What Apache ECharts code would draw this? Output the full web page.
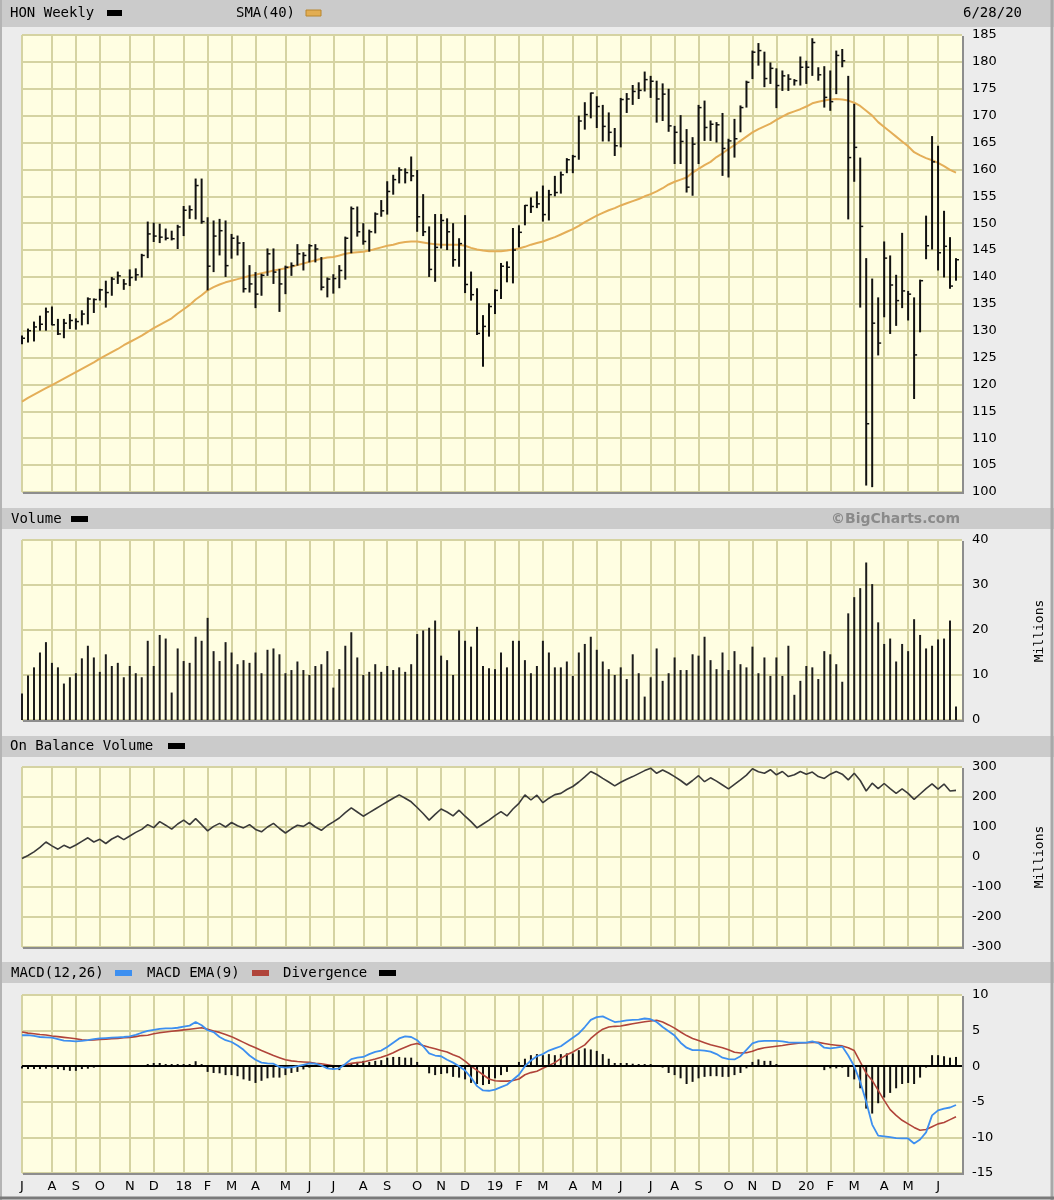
<!DOCTYPE html>
<html><head><meta charset="utf-8">
<script src="https://cdn.jsdelivr.net/npm/echarts/dist/echarts.min.js"></script>
<style>html,body{margin:0;padding:0;background:#ececec;}#c{width:1054px;height:1200px;}</style>
</head><body><div id="c"></div>
<script>
// ---------- DATA (weekly bars, week of Sunday 2017-07-02 ... 2020-06-28) ----------
const firstWeek = [2017, 7, 2];
const monthTickWeeks = [0,5,9,13,18,22,27,31,35,39,44,48,52,57,61,66,70,74,79,83,87,92,96,100,105,109,113,118,122,126,131,135,139,144,148,153];
const monthTickLabels = ['J','A','S','O','N','D','18','F','M','A','M','J','J','A','S','O','N','D','19','F','M','A','M','J','J','A','S','O','N','D','20','F','M','A','M','J'];
const priceTicks = {min:100, max:185, step:5};
const volumeTicks = {min:0, max:40, step:10};
const obvTicks = {min:-300, max:300, step:100};
const macdTicks = {min:-15, max:10, step:5};

const high = [
129.1,130.4,131.7,132.8,134.3,134.5,132.2,132.2,133.1,132.3,
133.8,136.2,136.0,137.8,139.3,140.0,141.0,139.6,141.4,141.6,
144.3,150.3,150.1,149.9,149.0,148.6,149.7,153.2,153.3,158.3,
158.3,151.1,150.5,150.8,150.5,148.0,147.7,146.5,142.2,140.9,
140.6,145.3,145.3,141.5,142.1,142.7,146.1,144.6,146.1,146.1,
143.7,139.9,140.5,142.2,147.5,153.1,153.1,150.0,148.8,152.0,
154.3,157.8,159.0,160.4,160.2,162.4,159.9,155.4,149.4,151.7,
151.7,150.9,150.0,147.2,151.5,141.0,137.9,132.9,135.1,137.7,
142.6,142.9,149.1,149.6,153.4,154.8,155.9,157.0,156.2,158.8,
159.6,162.1,162.7,170.0,172.5,174.3,173.6,172.0,170.6,167.7,
173.3,174.2,175.7,176.2,178.2,177.4,176.5,176.0,175.0,168.1,
170.1,167.5,166.0,172.0,172.8,169.1,168.8,170.5,165.7,169.4,
171.9,176.5,182.1,183.5,181.9,179.9,178.8,178.4,177.7,176.8,
181.0,180.2,184.4,179.0,179.2,178.4,182.1,182.4,177.4,172.2,
162.2,143.5,139.7,136.2,146.6,144.0,140.4,148.2,137.4,136.2,
139.5,151.4,166.2,164.4,152.3,147.4,143.5];
const low = [
127.5,127.8,128.0,130.0,130.0,131.0,129.2,128.6,130.3,130.2,
131.0,131.2,133.3,135.6,134.3,136.5,138.7,137.6,138.3,139.3,
139.9,143.5,146.5,146.3,146.8,146.8,145.2,147.6,150.8,150.7,
149.9,137.5,140.9,144.0,140.0,143.4,144.0,137.1,137.1,134.2,
136.5,140.2,138.7,133.5,136.8,140.2,142.1,141.2,142.7,142.7,
137.5,136.2,136.9,137.9,139.5,144.4,147.5,146.0,144.7,148.1,
151.2,151.6,155.3,157.4,157.4,157.8,148.4,147.6,140.0,139.1,
145.3,145.0,141.9,141.9,137.0,135.6,129.2,123.3,128.9,133.1,
135.9,139.0,138.8,145.5,149.6,151.9,152.8,150.3,150.5,155.0,
155.5,159.3,159.3,161.8,167.4,169.5,167.7,165.2,165.2,162.5,
164.1,170.5,172.0,173.1,174.5,173.3,168.7,169.0,167.0,161.0,
161.0,155.7,155.1,161.0,165.3,165.3,165.0,158.8,158.5,162.2,
166.9,171.5,176.8,179.3,175.3,175.9,171.4,174.6,174.6,175.6,
175.6,175.9,177.4,176.5,171.5,170.9,174.0,179.0,150.7,157.7,
134.3,101.2,100.9,125.4,132.5,129.4,130.9,134.2,131.9,117.3,
129.7,143.3,145.1,141.2,139.9,137.8,139.3];
const close = [
128.6,130.0,130.7,131.2,133.5,131.1,129.4,131.4,131.9,131.7,
133.1,135.9,135.8,137.6,137.1,139.6,140.2,138.7,139.9,140.4,
144.0,148.0,147.6,147.4,147.2,147.1,149.3,152.4,152.5,157.0,
150.3,142.0,147.6,148.6,142.1,147.2,146.3,137.8,138.7,136.8,
140.3,144.3,140.9,138.7,141.8,142.1,144.3,144.0,145.8,145.2,
138.1,139.6,139.7,141.2,147.2,152.7,148.4,146.6,148.4,151.7,
152.3,155.9,158.1,159.9,159.4,158.8,151.2,148.4,141.4,145.5,
150.5,148.4,143.2,146.2,138.6,136.7,129.5,130.8,134.5,137.5,
142.0,141.8,145.0,148.3,153.3,153.1,153.6,151.6,155.3,155.7,
159.0,161.8,162.4,169.0,170.2,174.2,171.7,168.0,166.9,164.4,
173.0,173.1,174.5,174.7,176.7,176.4,173.1,174.0,168.1,166.9,
165.2,156.7,164.7,171.5,167.8,168.4,168.3,163.9,165.3,165.7,
171.5,176.2,181.8,182.1,176.9,178.8,175.6,177.4,176.8,176.5,
179.0,179.0,183.6,177.6,173.4,172.6,181.2,180.2,162.2,164.1,
149.4,112.7,131.4,127.7,143.5,138.5,135.6,137.4,136.8,125.5,
139.3,145.8,161.4,144.5,145.7,138.3,143.2];
const sma40 = [
116.8,117.5,118.1,118.7,119.3,119.9,120.5,121.1,121.7,122.3,
122.9,123.5,124.1,124.8,125.4,126.0,126.6,127.3,127.9,128.5,
129.1,129.8,130.5,131.1,131.7,132.3,133.2,134.0,134.8,135.8,
136.6,137.5,138.1,138.6,139.0,139.3,139.6,139.9,140.2,140.4,
140.7,140.9,141.2,141.4,141.6,141.9,142.2,142.5,142.8,143.1,
143.4,143.6,143.7,144.0,144.3,144.5,144.6,144.7,144.9,145.2,
145.5,145.8,146.0,146.3,146.5,146.6,146.6,146.4,146.2,146.1,
146.0,146.0,146.0,146.0,145.8,145.4,145.1,144.9,144.8,144.8,
144.8,144.9,145.1,145.3,145.6,146.0,146.3,146.6,147.0,147.4,
147.9,148.4,148.9,149.5,150.2,150.8,151.4,151.9,152.4,152.8,
153.3,153.7,154.1,154.5,155.0,155.4,155.9,156.5,157.2,157.7,
158.1,158.5,159.4,160.1,160.8,161.4,162.3,163.0,163.8,164.5,
165.3,166.1,166.9,167.5,168.0,168.5,169.2,169.8,170.4,170.8,
171.2,171.7,172.3,172.6,172.8,173.0,173.1,173.0,172.8,172.4,
171.8,170.9,170.0,168.8,167.9,167.0,166.1,165.2,164.3,163.2,
162.6,162.1,161.7,161.2,160.6,159.9,159.4];
const volume = [
5.9,9.9,11.7,15.0,17.3,12.7,11.7,8.1,9.5,10.4,
13.7,16.5,13.9,10.7,14.6,12.0,12.7,9.5,12.0,10.4,
9.5,17.6,12.0,18.9,18.1,6.1,15.9,13.1,12.7,18.5,
17.6,22.7,15.3,13.1,17.3,15.0,12.4,13.3,12.7,15.0,
10.4,15.6,15.9,14.6,10.4,11.1,13.0,11.1,10.0,12.0,
12.4,15.3,7.2,11.3,16.5,19.5,13.9,10.0,10.7,12.4,
10.7,12.0,11.1,11.7,10.7,12.4,19.1,19.9,20.5,22.1,
14.3,13.3,10.0,19.9,17.6,16.3,20.7,12.0,11.5,11.3,
15.0,11.7,17.6,17.6,13.3,10.4,12.0,17.6,15.0,11.7,
11.7,13.0,9.8,15.0,16.9,18.5,15.6,13.0,11.3,10.0,
11.7,9.1,14.6,10.4,5.2,9.5,15.9,8.7,10.4,13.9,
11.1,11.1,14.6,14.3,18.5,13.3,11.3,15.0,11.1,15.3,
12.4,11.7,16.3,10.4,13.9,9.8,13.9,9.8,16.5,5.6,
8.7,12.0,11.7,9.1,15.3,14.6,12.4,8.5,23.7,27.3,
29.3,35.0,30.2,21.7,16.9,18.1,13.0,16.9,15.3,22.4,
18.9,15.9,16.5,17.9,18.1,22.1,3.0];
const obv = [
-5,5,17,32,50,37,26,39,30,40,
52,64,50,59,45,60,70,58,70,82,
92,108,98,118,106,93,110,123,108,128,
108,87,102,112,100,115,104,97,108,92,
84,100,112,95,80,94,106,102,115,100,
89,105,117,130,148,164,150,136,148,160,
172,184,196,207,196,184,165,145,123,142,
160,150,137,156,136,118,97,110,123,138,
151,137,160,179,207,190,206,181,196,208,
212,225,235,250,267,285,275,262,250,237,
249,259,268,278,288,296,279,290,280,268,
255,240,255,271,251,264,253,240,227,242,
257,273,294,284,279,291,274,285,268,274,
285,276,283,268,262,276,285,276,257,279,
255,220,246,228,245,228,212,227,212,192,
210,228,244,226,243,220,222];
const macd = [
4.35,4.35,4.25,4.1,4.05,4.0,3.8,3.6,3.55,3.5,
3.55,3.65,3.8,3.9,3.95,4.0,4.05,4.1,4.2,4.4,
4.7,4.95,5.1,5.25,5.3,5.3,5.4,5.55,5.7,6.2,
5.75,5.05,4.8,4.1,3.65,3.4,2.9,2.3,1.5,0.9,
0.5,0.4,0.35,-0.1,-0.2,-0.15,0.0,0.2,0.4,0.35,
0.1,-0.3,-0.4,-0.3,0.3,1.0,1.2,1.3,1.7,2.0,
2.2,2.7,3.3,3.9,4.2,4.1,3.65,2.8,1.8,1.5,
1.4,0.9,0.5,0.0,-0.6,-1.6,-2.8,-3.4,-3.45,-3.3,
-2.95,-2.6,-1.9,-1.2,0.0,0.8,1.4,1.7,2.2,2.5,
2.8,3.4,4.0,4.6,5.5,6.5,6.9,7.0,6.6,6.2,
6.3,6.45,6.5,6.55,6.7,6.6,6.2,5.5,4.9,4.3,
3.3,2.6,2.25,2.25,2.2,2.05,1.7,1.2,1.0,0.95,
1.4,2.3,3.2,3.5,3.55,3.55,3.55,3.5,3.35,3.3,
3.3,3.3,3.5,3.25,2.6,2.5,2.6,2.75,1.5,0.0,
-2.2,-5.0,-8.2,-9.75,-9.85,-9.95,-10.1,-10.15,-10.15,-10.85,
-10.3,-9.3,-6.9,-6.2,-5.95,-5.8,-5.45];
const macdEma = [
4.8,4.65,4.55,4.45,4.38,4.25,4.15,4.05,3.95,3.85,
3.7,3.65,3.7,3.75,3.8,3.85,3.9,4.0,4.05,4.15,
4.3,4.35,4.55,4.7,4.8,4.9,5.0,5.1,5.2,5.3,
5.4,5.2,4.95,4.75,4.45,4.15,3.75,3.35,2.95,2.6,
2.2,1.85,1.5,1.2,0.9,0.75,0.65,0.6,0.55,0.4,
0.35,0.2,0.05,0.0,0.2,0.4,0.5,0.6,0.8,1.0,
1.25,1.55,1.9,2.3,2.65,3.0,3.2,2.9,2.65,2.45,
2.2,2.0,1.6,1.3,0.7,0.0,-0.6,-1.2,-1.8,-2.05,
-2.1,-2.1,-2.0,-1.8,-1.2,-0.9,-0.7,-0.3,0.1,0.5,
1.1,1.6,2.0,2.5,3.0,3.9,4.6,5.2,5.5,5.6,
5.65,5.8,5.95,6.1,6.25,6.35,6.45,6.2,5.8,5.35,
4.8,4.3,3.9,3.6,3.3,3.0,2.8,2.6,2.3,1.95,
1.85,1.9,2.1,2.4,2.6,2.7,2.8,2.9,3.05,3.15,
3.25,3.3,3.35,3.35,3.2,3.05,2.95,2.85,2.6,2.2,
0.6,-1.0,-2.0,-3.4,-4.8,-6.1,-6.9,-7.6,-8.1,-8.6,
-9.0,-8.9,-8.5,-8.1,-7.9,-7.5,-7.1];
const divergence = [
-0.33,-0.4,-0.4,-0.4,-0.35,-0.2,-0.4,-0.55,-0.65,-0.65,
-0.4,-0.35,-0.2,0,0,0,0,0,0,0,
0.05,0.3,0.45,0.45,0.3,0.3,0.3,0.3,0.3,0.7,
0.3,-0.8,-0.95,-1.0,-1.25,-1.25,-1.4,-1.85,-2.05,-2.35,
-2.05,-1.7,-1.6,-1.6,-1.25,-0.95,-0.8,-0.45,-0.2,0.2,
0.05,-0.3,-0.5,-0.55,-0.1,0.3,0.6,0.75,0.6,0.75,
0.85,1.2,1.3,1.3,1.2,1.2,0.6,0,-1.0,-1.25,
-1.1,-1.0,-1.5,-1.6,-1.85,-2.35,-2.5,-2.65,-2.5,-1.7,
-1.25,-0.8,0.1,0.6,1.05,1.55,1.7,1.55,1.7,1.55,
1.7,1.8,1.8,2.25,2.5,2.35,2.15,1.7,1.05,0.45,
0.45,0.45,0.35,0.3,0.3,0.3,0,-0.2,-0.95,-1.25,
-1.7,-2.5,-2.2,-1.7,-1.5,-1.4,-1.4,-1.5,-1.5,-1.25,
-0.95,-0.3,0.6,0.95,0.75,0.75,0.3,0,0,0,
0,0,0,0,-0.55,-0.3,-0.3,-0.2,-1.5,-1.85,
-3.1,-5.95,-6.65,-5.2,-4.4,-3.75,-3.1,-2.5,-2.35,-2.5,
-1.6,-0.2,1.55,1.55,1.4,1.2,1.3];

// ---------- STYLE ----------
const PLOT_BG = '#fffee2';
const GRID_C = '#d5d3a2';
const HDR = '#cbcbcb';
const HFONT = '14px "DejaVu Sans Mono"';
const AFONT = 'DejaVu Sans';
const SHADOW = '#8d8d8d';

// categories (one extra empty week of right padding)
const pad = n => String(n).padStart(2, '0');
const categories = [];
for (let i = 0; i < close.length + 1; i++) {
  const d = new Date(firstWeek[0], firstWeek[1] - 1, firstWeek[2] + 7 * i);
  categories.push(d.getFullYear() + '-' + pad(d.getMonth() + 1) + '-' + pad(d.getDate()));
}
const tickSet = new Set(monthTickWeeks);
const labelAt = {};
monthTickWeeks.forEach((w, k) => labelAt[w] = monthTickLabels[k]);

const L = 22, R = 962, W = R - L;
const grids = [
  {left: L, top: 35, width: W, height: 457},
  {left: L, top: 540, width: W, height: 180},
  {left: L, top: 767, width: W, height: 180},
  {left: L, top: 995, width: W, height: 178}
];

function xAx(gi, showLabels) {
  return {
    type: 'category', gridIndex: gi, data: categories, boundaryGap: false,
    axisLine: {show: false}, axisTick: {show: false},
    axisLabel: {show: showLabels, interval: (idx) => tickSet.has(idx),
      formatter: (v, idx) => labelAt[idx] || '', margin: 7,
      fontFamily: AFONT, fontSize: 13, color: '#000'},
    splitLine: {show: true, interval: (idx) => tickSet.has(idx), lineStyle: {color: GRID_C, width: 2}}
  };
}
function yAx(gi, t) {
  return {
    type: 'value', gridIndex: gi, position: 'right', min: t.min, max: t.max, interval: t.step,
    axisLine: {show: false}, axisTick: {show: false},
    axisLabel: {margin: 10, fontFamily: AFONT, fontSize: 13, color: '#000'},
    splitLine: {show: true, lineStyle: {color: GRID_C, width: 2}}
  };
}

const priceData = close.map((c, i) => [i, high[i], low[i], c]);

function txt(x, y, s, o) {
  o = o || {};
  return {type: 'text', x: x, y: y, rotation: o.rot || 0, silent: true, z: 10,
    style: {text: s, fill: o.color || '#000', font: o.font || HFONT, align: o.align || 'left', verticalAlign: 'middle'}};
}
function rect(x, y, w, h, fill, stroke) {
  return {type: 'rect', silent: true, z: 5, shape: {x: x, y: y, width: w, height: h},
    style: {fill: fill, stroke: stroke || null, lineWidth: stroke ? 1 : 0}};
}
function line(x1, y1, x2, y2, c, w) {
  return {type: 'line', silent: true, z: 20, shape: {x1, y1, x2, y2}, style: {stroke: c, lineWidth: w}};
}

const graphics = [
  rect(0, 0, 1054, 27, HDR),
  rect(0, 508, 1054, 21, HDR),
  rect(0, 736, 1054, 21, HDR),
  rect(0, 962, 1054, 21, HDR),
  txt(10, 13, 'HON Weekly'), rect(107, 10, 15, 6, '#000'),
  txt(236, 13, 'SMA(40)'), rect(306, 10, 15, 6, '#e2ad52', '#b8862e'),
  txt(1022, 13, '6/28/20', {align: 'right'}),
  txt(11, 519, 'Volume'), rect(71, 516, 17, 6, '#000'),
  txt(960, 519, '\u00a9BigCharts.com', {align: 'right', color: '#8a8a8a', font: 'bold 14px "DejaVu Sans"'}),
  txt(10, 746, 'On Balance Volume'), rect(168, 743, 17, 6, '#000'),
  txt(11, 973, 'MACD(12,26)'), rect(115, 970, 17, 6, '#3d8ff0'),
  txt(147, 973, 'MACD EMA(9)'), rect(252, 970, 17, 6, '#b0443a'),
  txt(283, 973, 'Divergence'), rect(379, 970, 17, 6, '#000'),
  txt(1040, 631, 'Millions', {rot: Math.PI / 2, align: 'center', font: '13px "DejaVu Sans Mono"'}),
  txt(1040, 857, 'Millions', {rot: Math.PI / 2, align: 'center', font: '13px "DejaVu Sans Mono"'}),
  // outer frame
  line(1, 0, 1, 1200, '#b4b4b4', 2),
  line(1052, 0, 1052, 1200, '#a8a8a8', 3),
  line(0, 1198, 1054, 1198, '#7a7a7a', 3)
];
grids.forEach(g => {
  graphics.push(line(g.left + g.width + 1, g.top + 1, g.left + g.width + 1, g.top + g.height + 2, SHADOW, 2));
  graphics.push(line(g.left + 1, g.top + g.height + 1, g.left + g.width + 2, g.top + g.height + 1, SHADOW, 2));
});

const chart = echarts.init(document.getElementById('c'), null, {renderer: 'canvas'});
chart.setOption({
  animation: false,
  backgroundColor: '#ececec',
  textStyle: {fontFamily: AFONT},
  grid: grids.map(g => Object.assign({show: true, backgroundColor: PLOT_BG, borderWidth: 0, containLabel: false}, g)),
  xAxis: [xAx(0, false), xAx(1, false), xAx(2, false), xAx(3, true)],
  yAxis: [yAx(0, priceTicks), yAx(1, volumeTicks), yAx(2, obvTicks), yAx(3, macdTicks)],
  graphic: graphics,
  series: [
    {
      name: 'HON', type: 'custom', xAxisIndex: 0, yAxisIndex: 0, data: priceData,
      encode: {x: 0, y: [1, 2, 3]}, z: 5,
      renderItem: function (params, api) {
        const i = api.value(0);
        const pH = api.coord([i, api.value(1)]);
        const pL = api.coord([i, api.value(2)]);
        const pC = api.coord([i, api.value(3)]);
        return {type: 'group', children: [
          {type: 'line', shape: {x1: pH[0], y1: pH[1], x2: pL[0], y2: pL[1]}, style: {stroke: '#111', lineWidth: 2}},
          {type: 'line', shape: {x1: pC[0], y1: pC[1], x2: pC[0] + 3, y2: pC[1]}, style: {stroke: '#111', lineWidth: 1.5}}
        ]};
      }
    },
    {name: 'SMA(40)', type: 'line', xAxisIndex: 0, yAxisIndex: 0, data: sma40, showSymbol: false, z: 4,
      lineStyle: {color: '#e4ae58', width: 2}},
    {name: 'Volume', type: 'bar', xAxisIndex: 1, yAxisIndex: 1, data: volume, barWidth: 2,
      itemStyle: {color: '#1c1c1c'}},
    {name: 'OBV', type: 'line', xAxisIndex: 2, yAxisIndex: 2, data: obv, showSymbol: false,
      lineStyle: {color: '#3a3a3a', width: 1.6}},
    {name: 'Divergence', type: 'bar', xAxisIndex: 3, yAxisIndex: 3, data: divergence, barWidth: 2,
      itemStyle: {color: '#111'}, z: 3,
      markLine: {silent: true, symbol: 'none', label: {show: false},
        lineStyle: {color: '#000', width: 2, type: 'solid'}, data: [{yAxis: 0}]}},
    {name: 'MACD EMA(9)', type: 'line', xAxisIndex: 3, yAxisIndex: 3, data: macdEma, showSymbol: false, z: 4,
      lineStyle: {color: '#b0443a', width: 1.6}},
    {name: 'MACD(12,26)', type: 'line', xAxisIndex: 3, yAxisIndex: 3, data: macd, showSymbol: false, z: 5,
      lineStyle: {color: '#3d8ff0', width: 1.8}}
  ]
});
</script></body></html>
